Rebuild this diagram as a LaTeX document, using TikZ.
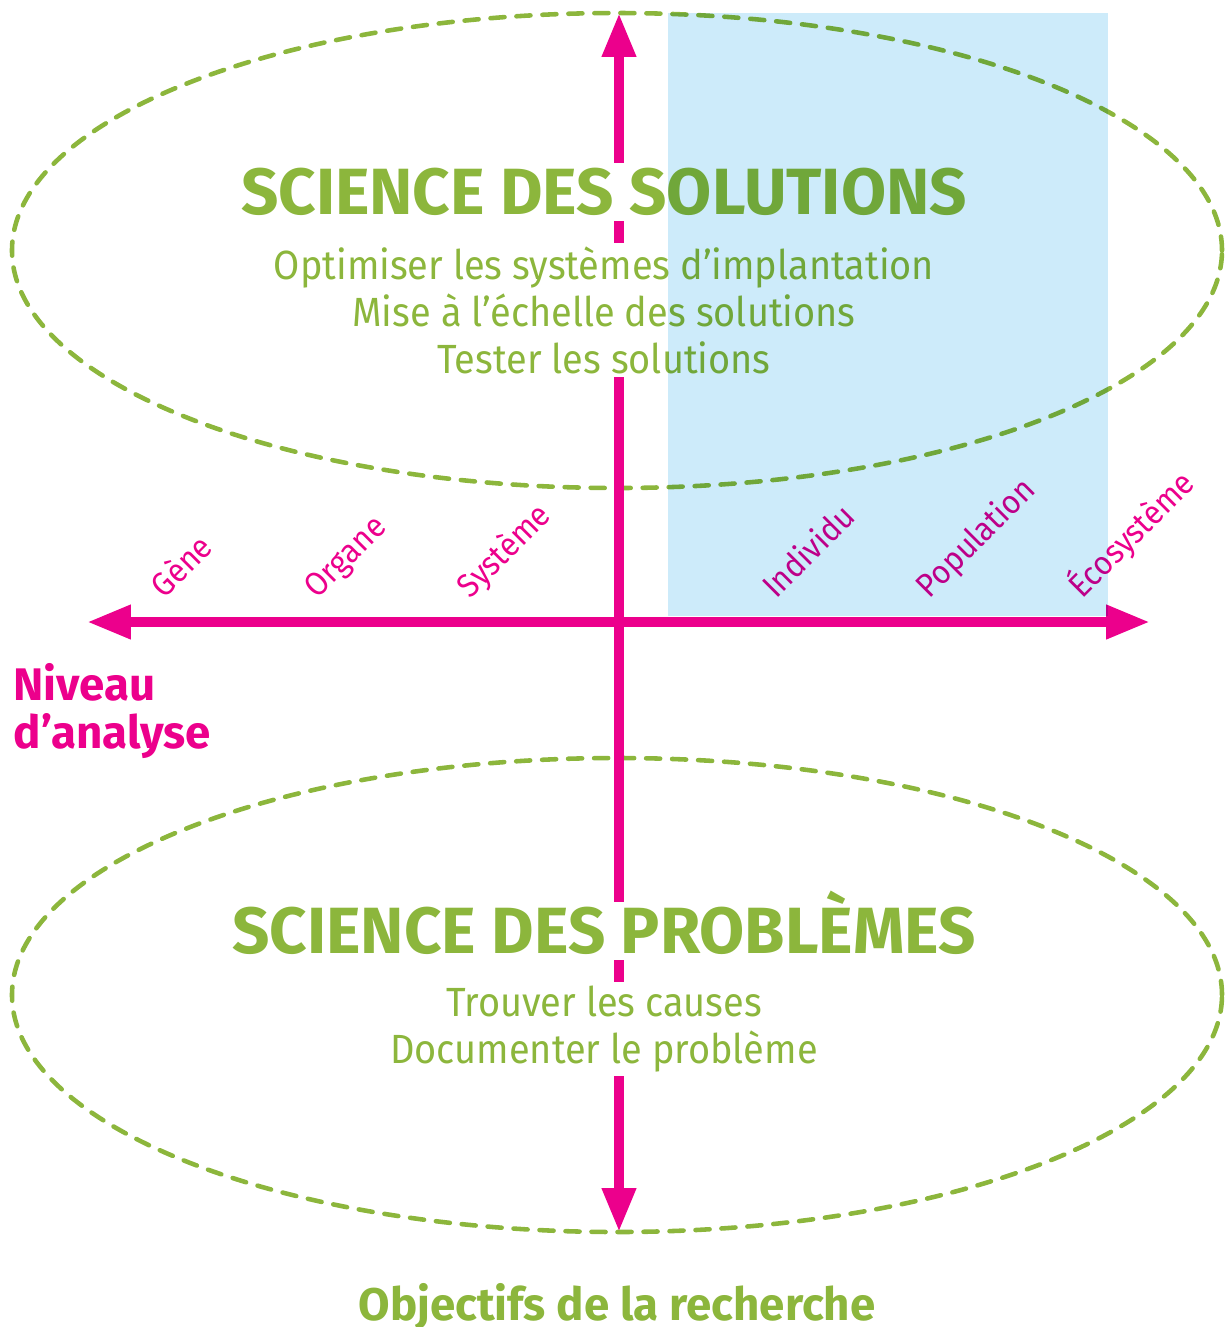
\documentclass[tikz,border=0pt]{standalone}
\usepackage{fontspec}
\setmainfont{Fira Sans}[FakeStretch=0.93]
\newfontfamily\heavyfont{Fira Sans}
\usepackage{tikz}
\usetikzlibrary{arrows.meta}
\definecolor{leaf}{HTML}{8CB63C}
\definecolor{fuchsia}{HTML}{EC008C}
\definecolor{sky}{HTML}{CDEBFA}

\begin{document}
\begin{tikzpicture}[
		axis/.style={fuchsia, line width=2.85pt, {Triangle[length=12.5pt,width=9.1pt]}-{Triangle[length=12.5pt,width=9.1pt]}},
		zone/.style={leaf, line width=1.3pt, dash pattern=on 4pt off 3.4pt, line cap=round},
		sciencetitle/.style={leaf, font=\heavyfont\bfseries\fontsize{18.6}{20}\selectfont, fill=white, text height=12.8pt, text depth=0pt, inner xsep=0pt, inner ysep=1.8pt},
		goals/.style={leaf, font=\fontsize{11.6}{13.4}\selectfont, align=center, fill=white, inner xsep=0pt, inner ysep=1pt},
		level/.style={fuchsia, font=\fontsize{9.4}{11}\selectfont, rotate=45, anchor=base west, inner sep=0pt},
		axisname/.style={font=\heavyfont\bfseries\fontsize{13}{13.7}\selectfont, inner sep=0pt}
	]
		\useasboundingbox (0,0) rectangle (12.27,-13.27);
		\draw[zone] (6.17,-2.505) ellipse [x radius=6.05, y radius=2.375];
		\draw[zone] (6.17,-9.95) ellipse [x radius=6.05, y radius=2.37];
		\coordinate (top) at (6.19,-0.13);
		\coordinate (bottom) at (6.19,-12.32);
		\coordinate (west) at (0.87,-6.22);
		\coordinate (east) at (11.50,-6.22);
		\draw[axis] (bottom) -- (top);
		\draw[axis] (west) -- (east);
		\node[sciencetitle] (solutions) at (6.04,-1.92) {SCIENCE DES SOLUTIONS};
		\node[goals] (solutionsgoals) at (6.04,-3.10) {Optimiser les systèmes d’implantation\\Mise à l’échelle des solutions\\Tester les solutions};
		\node[sciencetitle] (problems) at (6.04,-9.31) {SCIENCE DES PROBLÈMES};
		\node[goals] (problemsgoals) at (6.04,-10.29) {Trouver les causes\\Documenter le problème};
		\foreach \name/\k in {Gène/0, Organe/1, Système/2, Individu/4, Population/5, Écosystème/6}
			\node[level] (level-\k) at (1.64+\k*1.53,-6.00) {\name};
		\node[axisname, fuchsia, align=left, anchor=north west] (levelname) at (0.13,-6.63) {Niveau\\d’analyse};
		\node[axisname, leaf, anchor=base] (goalname) at (6.17,-13.20) {Objectifs de la recherche};
		\begin{scope}[blend mode=multiply]
			\fill[sky] (6.68,-0.13) rectangle (11.08,-6.16);
		\end{scope}
\end{tikzpicture}
\end{document}
